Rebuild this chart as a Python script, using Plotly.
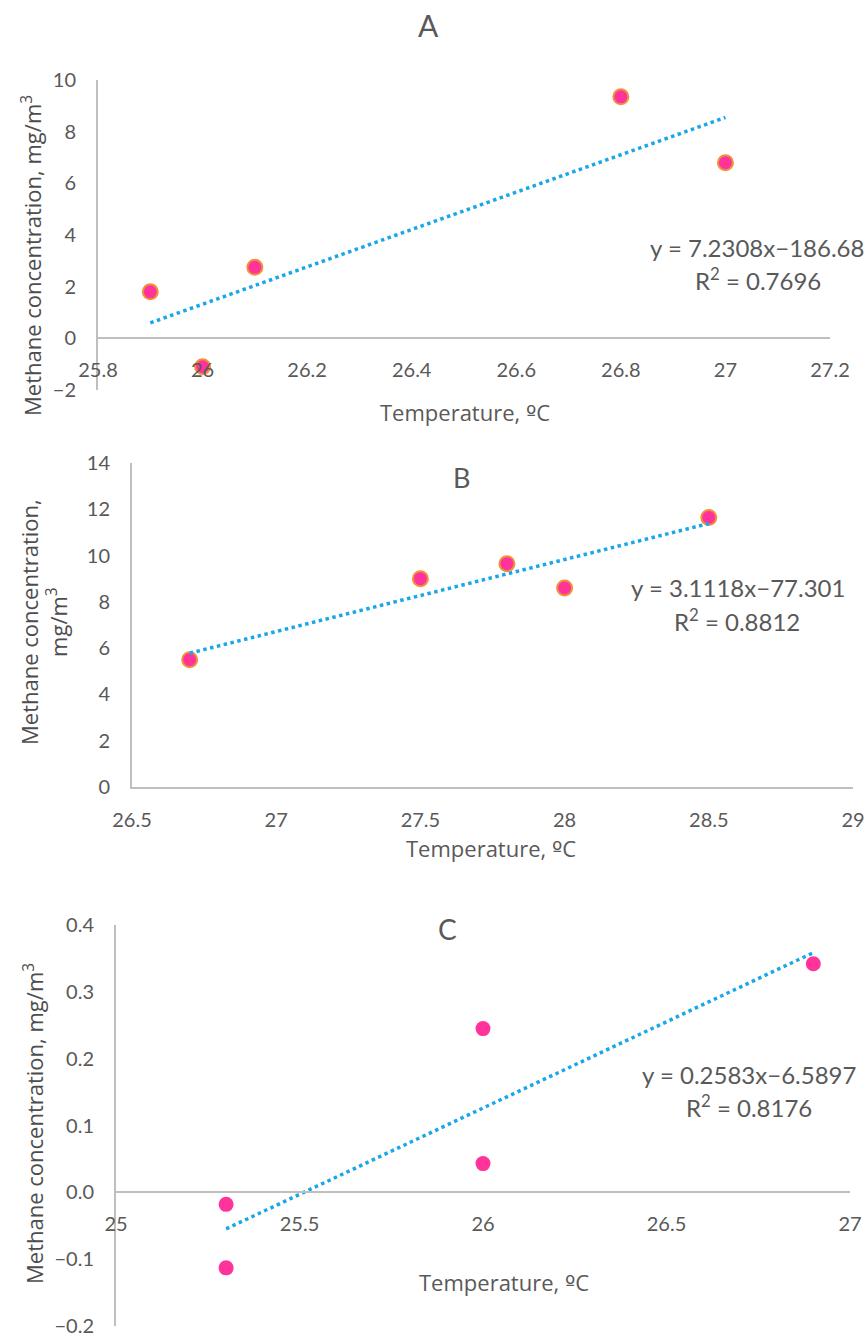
import plotly.graph_objects as go

# ---------------- data ----------------
a_temp = [25.9, 26.0, 26.1, 26.8, 27.0]
a_conc = [1.8, -1.1, 2.75, 9.35, 6.8]
a_slope, a_intercept = 7.2308, -186.68
a_eq = "y = 7.2308x−186.68"
a_r2 = "R<sup>2</sup> = 0.7696"

b_temp = [26.7, 27.5, 27.8, 28.0, 28.5]
b_conc = [5.5, 9.0, 9.65, 8.6, 11.65]
b_slope, b_intercept = 3.1118, -77.301
b_eq = "y = 3.1118x−77.301"
b_r2 = "R<sup>2</sup> = 0.8812"

c_temp = [25.3, 25.3, 26.0, 26.0, 26.9]
c_conc = [-0.018, -0.113, 0.245, 0.043, 0.342]
c_slope, c_intercept = 0.2583, -6.5897
c_eq = "y = 0.2583x−6.5897"
c_r2 = "R<sup>2</sup> = 0.8176"

panel_titles = ["A", "B", "C"]
x_title = "Temperature, <span style='font-family:DejaVu Sans'>º</span>C"
y_title = "Methane concentration, mg/m<sup>3</sup>"
y_title_b = "Methane concentration,<br>mg/m<sup>3</sup>"

# ---------------- styling ----------------
W, H = 867, 1338
FONT = "Lato, 'Open Sans', sans-serif"
GRAY = "#595959"
DARK = "#4d4d4d"
AXIS = "#bfbfbf"
PINK = "#ff3399"
ORANGE = "#f0913c"
BLUE = "#1aa7ea"


def px(x):
    return x / W


def py(y):
    return 1 - y / H


fig = go.Figure()


def add_panel(idx, temps, concs, slope, intercept, outline):
    xa = "x" if idx == 1 else f"x{idx}"
    ya = "y" if idx == 1 else f"y{idx}"
    fig.add_trace(go.Scatter(
        x=temps, y=concs, mode="markers", xaxis=xa, yaxis=ya,
        marker=dict(size=15, color=PINK,
                    line=dict(color=outline, width=2 if outline != PINK else 0)),
        showlegend=False, hoverinfo="skip"))
    x0, x1 = min(temps), max(temps)
    fig.add_trace(go.Scatter(
        x=[x0, x1], y=[slope * x0 + intercept, slope * x1 + intercept],
        mode="lines", xaxis=xa, yaxis=ya,
        line=dict(color=BLUE, width=3.5, dash="dot"),
        showlegend=False, hoverinfo="skip"))


add_panel(1, a_temp, a_conc, a_slope, a_intercept, ORANGE)
add_panel(2, b_temp, b_conc, b_slope, b_intercept, ORANGE)
add_panel(3, c_temp, c_conc, c_slope, c_intercept, PINK)

tickfont = dict(family=FONT, size=20, color=GRAY)
common_x = dict(showgrid=False, zeroline=False, showline=True, linecolor=AXIS,
                linewidth=2, ticks="outside", ticklen=14, tickcolor="rgba(0,0,0,0)",
                tickfont=tickfont, automargin=False, ticklabeloverflow="allow")
common_y = dict(showgrid=False, zeroline=False, showline=True, linecolor=AXIS,
                linewidth=2, ticks="outside", ticklen=16, tickcolor="rgba(0,0,0,0)",
                tickfont=tickfont, automargin=False, ticklabeloverflow="allow")

# Panel A
a_top, a_bot = py(80), py(390)
a_ymin, a_ymax = -2, 10
a_pos = a_bot + (0 - a_ymin) / (a_ymax - a_ymin) * (a_top - a_bot)
fig.update_layout(
    xaxis=dict(domain=[px(98), px(830)], range=[25.8, 27.2], dtick=0.2,
               anchor="free", position=a_pos, **common_x),
    yaxis=dict(domain=[a_bot, a_top], range=[a_ymin, a_ymax], dtick=2,
               anchor="x", **common_y),
)

# Panel B
b_top, b_bot = py(463), py(787)
fig.update_layout(
    xaxis2=dict(domain=[px(132), px(853)], range=[26.5, 29], dtick=0.5,
                anchor="y2", **common_x),
    yaxis2=dict(domain=[b_bot, b_top], range=[0, 14], dtick=2,
                anchor="x2", **common_y),
)

# Panel C
c_top, c_bot = py(925), py(1326)
c_ymin, c_ymax = -0.2, 0.4
c_pos = c_bot + (0 - c_ymin) / (c_ymax - c_ymin) * (c_top - c_bot)
fig.update_layout(
    xaxis3=dict(domain=[px(116), px(850)], range=[25, 27], dtick=0.5,
                anchor="free", position=c_pos, **common_x),
    yaxis3=dict(domain=[c_bot, c_top], range=[c_ymin, c_ymax], dtick=0.1,
                tickformat=".1f", anchor="x3", **common_y),
)

ann = []


def text(x, y, s, size, color=GRAY, angle=0, family=FONT):
    ann.append(dict(x=px(x), y=py(y), xref="paper", yref="paper", text=s,
                    showarrow=False, textangle=angle, xanchor="center",
                    yanchor="middle", font=dict(family=family, size=size, color=color)))


# panel titles
text(428, 25, panel_titles[0], 30)
text(461, 477, panel_titles[1], 27)
text(447, 929, panel_titles[2], 28)

# x axis titles
XF = "'Open Sans', sans-serif"
text(465, 412, x_title, 22, family=XF)
text(491, 848, x_title, 22, family=XF)
text(504, 1282, x_title, 22, family=XF)

# y axis titles
YF = "'Open Sans', sans-serif"
text(31, 256, y_title, 22, color=DARK, angle=-90, family=YF)
text(44, 622, y_title_b, 22, color=DARK, angle=-90, family=YF)
text(33, 1124, y_title, 22, color=DARK, angle=-90, family=YF)

# equations
text(757, 248, a_eq, 24)
text(758, 279, a_r2, 24)
text(738, 588, b_eq, 24)
text(737, 620, b_r2, 24)
text(749, 1074, c_eq, 24)
text(749, 1106, c_r2, 24)

fig.update_layout(
    width=W, height=H, margin=dict(l=0, r=0, t=0, b=0),
    paper_bgcolor="white", plot_bgcolor="white",
    annotations=ann, showlegend=False,
)

fig.write_html("out.html",
               config={"displayModeBar": False},
               post_script="document.body.style.margin='0px';"
                           "document.body.style.overflow='hidden';")
